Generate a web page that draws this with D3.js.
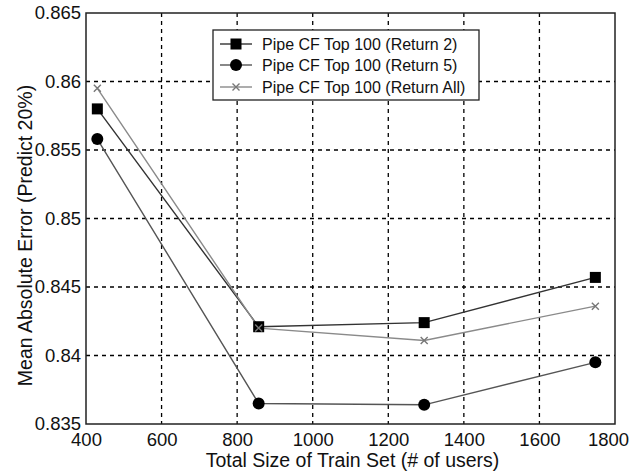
<!DOCTYPE html>
<html><head><meta charset="utf-8">
<script src="https://cdn.jsdelivr.net/npm/d3@7"></script>
<style>body{margin:0;background:#fff;} svg{display:block;} text{font-family:"Liberation Sans",Arial,Helvetica,sans-serif;fill:#111;}</style>
</head><body>
<svg id="c" width="632" height="473"></svg>
<script>
const xValues = [430, 857, 1295, 1748];
const seriesNames = ["Pipe CF Top 100 (Return 2)", "Pipe CF Top 100 (Return 5)", "Pipe CF Top 100 (Return All)"];
const return2 = [0.8580, 0.8421, 0.8424, 0.8457];
const return5 = [0.8558, 0.8365, 0.8364, 0.8395];
const returnAll = [0.8595, 0.8420, 0.8411, 0.8436];
const xTicks = [400, 600, 800, 1000, 1200, 1400, 1600, 1800];
const yTicks = [0.835, 0.84, 0.845, 0.85, 0.855, 0.86, 0.865];

const svg = d3.select("#c");
const L = 86, R = 615, T = 13, B = 424;
const x = d3.scaleLinear().domain([400, 1800]).range([L, R]);
const y = d3.scaleLinear().domain([0.835, 0.865]).range([B, T]);

// grid
const g = svg.append("g");
g.selectAll(".gx").data(xTicks.slice(1, -1)).enter().append("line")
  .attr("x1", d => x(d)).attr("x2", d => x(d)).attr("y1", T).attr("y2", B)
  .attr("stroke", "#000").attr("stroke-width", 1.3).attr("stroke-dasharray", "4,4");
g.selectAll(".gy").data(yTicks.slice(1, -1)).enter().append("line")
  .attr("y1", d => y(d)).attr("y2", d => y(d)).attr("x1", L).attr("x2", R)
  .attr("stroke", "#000").attr("stroke-width", 1.3).attr("stroke-dasharray", "4,4");
svg.append("rect").attr("x", L).attr("y", T).attr("width", R - L).attr("height", B - T)
  .attr("fill", "none").attr("stroke", "#222").attr("stroke-width", 1.5);

// axes
const xAxis = d3.axisBottom(x).tickValues(xTicks).tickSize(0).tickPadding(9).tickFormat(d3.format("d"));
const yAxis = d3.axisLeft(y).tickValues(yTicks).tickSize(0).tickPadding(5).tickFormat(d => String(+d.toFixed(3)));
const ax = svg.append("g").attr("transform", `translate(0,${B})`).call(xAxis);
const ay = svg.append("g").attr("transform", `translate(${L},0)`).call(yAxis);
[ax, ay].forEach(a => { a.select(".domain").remove(); a.selectAll("text").style("font-size", "18.5px").attr("fill", "#111"); });
ax.selectAll("text").filter(d => d === 1800).attr("dx", -7);

svg.append("text").attr("x", (L + R) / 2 + 2).attr("y", 467).attr("text-anchor", "middle")
  .style("font-size", "19.5px").text("Total Size of Train Set (# of users)");
svg.append("text").attr("transform", `translate(25,${(T + B) / 2 + 17}) rotate(-90)`).attr("text-anchor", "middle")
  .attr("dy", "0.35em").style("font-size", "19.5px").text("Mean Absolute Error (Predict 20%)");

const series = [
  { name: seriesNames[0], vals: return2, line: "#333", mark: "square" },
  { name: seriesNames[1], vals: return5, line: "#555", mark: "circle" },
  { name: seriesNames[2], vals: returnAll, line: "#8a8a8a", mark: "cross" }
];
const lineGen = d3.line().x((d, i) => x(xValues[i])).y(d => y(d));

function drawMarker(sel, type, cx, cy) {
  if (type === "square") sel.append("rect").attr("x", cx - 5.5).attr("y", cy - 5.5).attr("width", 11).attr("height", 11).attr("fill", "#000");
  else if (type === "circle") sel.append("circle").attr("cx", cx).attr("cy", cy).attr("r", 6).attr("fill", "#000");
  else sel.append("path").attr("d", `M${cx-3.5},${cy-3.5}L${cx+3.5},${cy+3.5}M${cx-3.5},${cy+3.5}L${cx+3.5},${cy-3.5}`)
    .attr("stroke", "#777").attr("stroke-width", 1.4).attr("fill", "none");
}

[series[1], series[0], series[2]].forEach(s => {
  svg.append("path").datum(s.vals).attr("d", lineGen).attr("fill", "none").attr("stroke", s.line).attr("stroke-width", 1.4);
});
series.forEach(s => {
  const mg = svg.append("g");
  s.vals.forEach((v, i) => drawMarker(mg, s.mark, x(xValues[i]), y(v)));
});

// legend
const lg = svg.append("g");
lg.append("rect").attr("x", 213).attr("y", 30).attr("width", 266).attr("height", 70)
  .attr("fill", "#fff").attr("stroke", "#222").attr("stroke-width", 1.3);
const rowY = [44, 65, 87];
series.forEach((s, i) => {
  lg.append("line").attr("x1", 220).attr("x2", 252).attr("y1", rowY[i]).attr("y2", rowY[i])
    .attr("stroke", s.line).attr("stroke-width", 1.4);
  drawMarker(lg, s.mark, 236, rowY[i]);
  lg.append("text").attr("x", 262).attr("y", rowY[i]).attr("dy", "0.35em").style("font-size", "16px").text(s.name);
});
</script>
</body></html>
